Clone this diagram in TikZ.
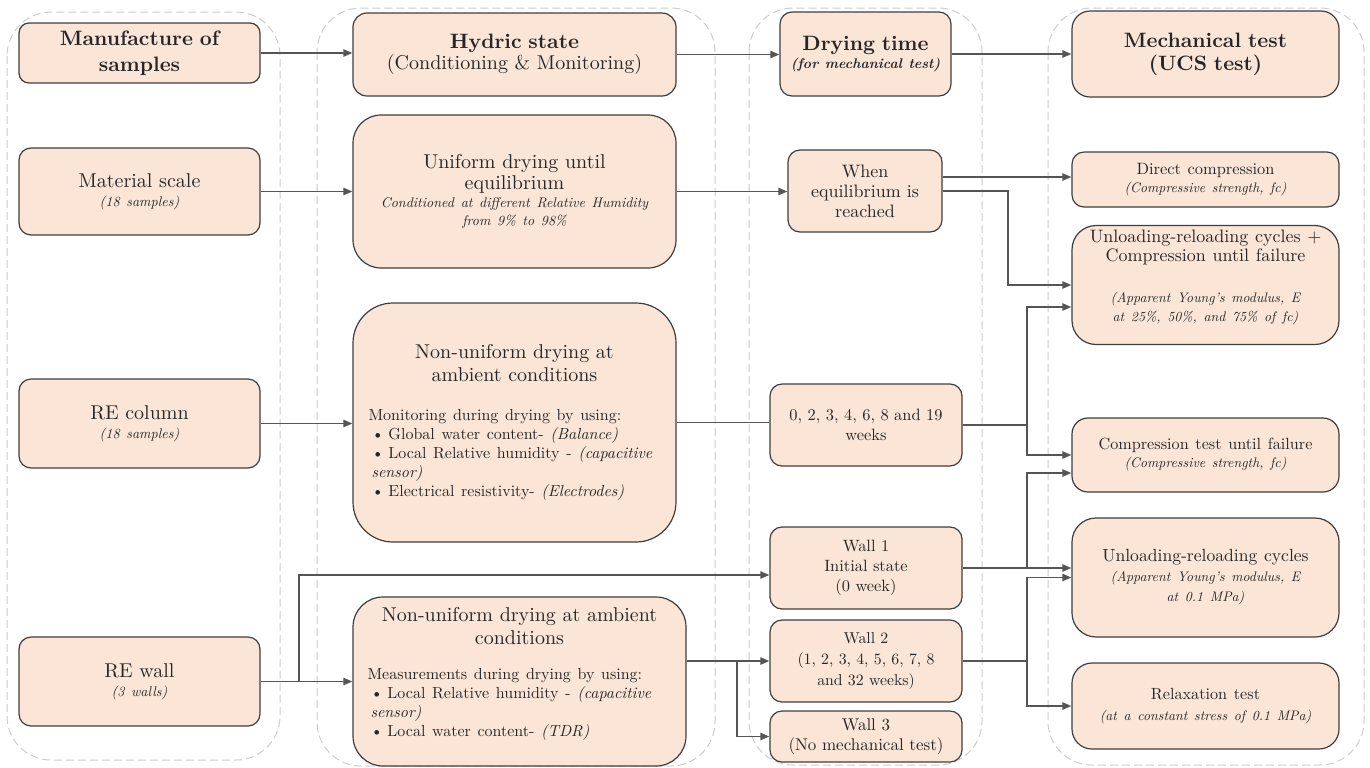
\documentclass[tikz,border=0pt]{standalone}
\usepackage{fontspec}
\setmainfont{lmroman10-regular.otf}[BoldFont=lmroman10-bold.otf, ItalicFont=lmroman10-italic.otf, BoldItalicFont=lmroman10-bolditalic.otf]
\usetikzlibrary{arrows.meta,calc}
\definecolor{boxfill}{RGB}{250,229,214}
\definecolor{boxline}{RGB}{62,62,62}
\definecolor{arrgray}{RGB}{85,85,85}
\definecolor{grpgray}{RGB}{205,205,205}
\newcommand\fsz[2]{\fontsize{#1}{#2}\selectfont}
\newcommand\bul{\hspace*{1.5pt}\makebox[8.5pt][l]{\textbullet}}
\begin{document}
\begin{tikzpicture}[x=0.5pt,y=-0.5pt,
  box/.style={draw=boxline, fill=boxfill, line width=0.6pt, rounded corners=5pt,
    inner sep=2pt, align=center, text=black!85},
  arr/.style={draw=arrgray, line width=0.9pt, -{Triangle[length=4.5pt,width=3.6pt]}},
  ln/.style={draw=arrgray, line width=0.9pt},
  grp/.style={draw=grpgray, dash pattern=on 4pt off 2pt, line width=0.5pt, rounded corners=22pt}]
\useasboundingbox (0,0) rectangle (1370,767);

% column groups
\draw[grp] (7,12) rectangle (280,760);
\draw[grp] (317,8) rectangle (715,766);
\draw[grp] (749,8) rectangle (982,765);
\draw[grp] (1048,8) rectangle (1364,765);

% column 1
\node[box, minimum width=120.5pt, minimum height=30pt, text width=115pt,
  font=\bfseries\fsz{10.4}{13}] (man) at (139.5,53) {Manufacture of\\samples};
\node[box, rounded corners=6pt, minimum width=120.5pt, minimum height=43.5pt, text width=115pt]
  (mat) at (139.5,191.5) {{\fsz{10}{11}Material scale\par}{\itshape\fsz{7}{9.5}(18 samples)\par}};
\node[box, rounded corners=6pt, minimum width=120.5pt, minimum height=44.5pt, text width=115pt]
  (col) at (139.5,423.5) {{\fsz{10}{11}RE column\par}{\itshape\fsz{7}{9.5}(18 samples)\par}};
\node[box, rounded corners=6pt, minimum width=120.5pt, minimum height=44.5pt, text width=115pt]
  (wal) at (139.5,681.5) {{\fsz{10}{11}RE wall\par}{\itshape\fsz{7}{9.5}(3 walls)\par}};

% column 2
\node[box, rounded corners=7pt, minimum width=161.5pt, minimum height=41.5pt, text width=150pt]
  (hyd) at (514.5,54.5) {{\bfseries\fsz{10.4}{12}Hydric state\par}{\fsz{10}{10.5}(Conditioning \& Monitoring)\par}};
\node[box, rounded corners=14pt, minimum width=161.5pt, minimum height=76.5pt, text width=150pt]
  (uni) at (514.5,191.5) {{\fsz{10}{10.5}Uniform drying until\\equilibrium\par}{\itshape\fsz{7}{9}Conditioned at different Relative Humidity\\from 9\% to 98\%\par}};
\node[box, rounded corners=20pt, minimum width=161.5pt, minimum height=119.5pt, text width=146pt, align=left]
  (nuc) at (514.5,422.5) {{\centering\fsz{10}{11.5}Non-uniform drying at\\ambient conditions\par}\vspace{10pt}%
  {\raggedright\fsz{8}{9.5}Monitoring during drying by using:\\
  \bul Global water content- \textit{(Balance)}\\
  \bul Local Relative humidity - \textit{(capacitive}\\
  \hspace*{1.5pt}\textit{sensor)}\\
  \bul Electrical resistivity- \textit{(Electrodes)}\par}};
\node[box, rounded corners=15pt, minimum width=166.5pt, minimum height=84.5pt, text width=152pt, align=left]
  (nuw) at (519.5,681.5) {{\centering\fsz{10}{11.5}Non-uniform drying at ambient\\conditions\par}\vspace{8pt}%
  {\raggedright\fsz{8}{9.5}Measurements during drying by using:\\
  \bul Local Relative humidity - \textit{(capacitive}\\
  \hspace*{1.5pt}\textit{sensor)}\\
  \bul Local water content- \textit{(TDR)}\par}\vspace*{8pt}};

% column 3
\node[box, rounded corners=6pt, minimum width=85.5pt, minimum height=42pt, text width=81pt]
  (dry) at (865.5,54) {{\bfseries\fsz{10.4}{12}Drying time\par}{\bfseries\itshape\fsz{7}{9}(for mechanical test)\par}};
\node[box, rounded corners=6pt, minimum width=77pt, minimum height=41pt, text width=72pt, font=\fsz{9}{10}]
  (whe) at (865,191) {When\\equilibrium is\\reached};
\node[box, rounded corners=6pt, minimum width=96pt, minimum height=41pt, text width=90pt, font=\fsz{8.2}{10}]
  (wks) at (866,425) {0, 2, 3, 4, 6, 8 and 19\\weeks};
\node[box, rounded corners=6pt, minimum width=96pt, minimum height=41pt, text width=90pt, font=\fsz{8.2}{10}]
  (w1) at (866,568) {Wall 1\\Initial state\\(0 week)};
\node[box, rounded corners=6pt, minimum width=96pt, minimum height=41pt, text width=90pt, font=\fsz{7.9}{10.5}]
  (w2) at (866,661) {Wall 2\\(1, 2, 3, 4, 5, 6, 7, 8\\and 32 weeks)};
\node[box, rounded corners=6pt, minimum width=96pt, minimum height=25.5pt, text width=90pt, font=\fsz{8.5}{10}]
  (w3) at (866,736.5) {Wall 3\\(No mechanical test)};

% column 4
\node[box, rounded corners=9pt, minimum width=133.5pt, minimum height=43pt, text width=125pt,
  font=\bfseries\fsz{10.4}{11.5}] (mec) at (1205.5,54) {Mechanical test\\(UCS test)};
\node[box, rounded corners=6pt, minimum width=133.5pt, minimum height=27.5pt, text width=125pt]
  (dc) at (1205.5,179.5) {{\fsz{8.2}{9.5}Direct compression\par}{\itshape\fsz{6.9}{9}(Compressive strength, fc)\par}};
\node[box, rounded corners=12pt, minimum width=133.5pt, minimum height=59pt, text width=125pt]
  (urc) at (1205.5,285) {{\fsz{9}{9.5}Unloading-reloading cycles +\\Compression until failure\par}\vspace{11pt}%
  {\itshape\fsz{6.9}{9.5}(Apparent Young's modulus, E\\at 25\%, 50\%, and 75\% of fc)\par}\vspace*{8pt}};
\node[box, rounded corners=8pt, minimum width=133.5pt, minimum height=37pt, text width=125pt]
  (ctf) at (1205.5,455) {{\fsz{8.1}{9.5}Compression test until failure\par}{\itshape\fsz{6.9}{9}(Compressive strength, fc)\par}};
\node[box, rounded corners=12pt, minimum width=133.5pt, minimum height=59.5pt, text width=125pt]
  (urr) at (1205.5,577.5) {{\fsz{8.8}{10}Unloading-reloading cycles\par}{\itshape\fsz{6.9}{10}(Apparent Young's modulus, E\\at 0.1 MPa)\par}};
\node[box, rounded corners=10pt, minimum width=133.5pt, minimum height=43pt, text width=125pt]
  (rel) at (1205.5,706) {{\fsz{8.1}{9.5}Relaxation test\par}{\itshape\fsz{6.9}{10.5}(at a constant stress of 0.1 MPa)\par}};

% helper coordinates
\coordinate (weq) at ([yshift=7pt]whe.east);
\coordinate (urcin) at ([yshift=-11pt]urc.west);
\coordinate (w1in) at ([yshift=-3.5pt]w1.west);
\coordinate (ctfin) at ([yshift=-9pt]ctf.west);

% connectors: header row
\draw[arr] (man.east) -- (hyd.west |- man.east);
\draw[arr] (hyd.east) -- (dry.west |- hyd.east);
\draw[arr] (dry.east) -- (mec.west |- dry.east);

% material scale
\draw[arr] (mat.east) -- (uni.west |- mat.east);
\draw[arr] (uni.east) -- (whe.west |- uni.east);
\draw[arr] (weq) -- (dc.west |- weq);
\draw[arr] (whe.east) -- ++(65,0) |- (urc.west);

% RE column
\draw[arr] (col.east) -- (nuc.west |- col.east);
\draw[ln] (nuc.east) -- (wks.west |- nuc.east);
\draw[arr] (wks.east) -- ++(64,0) |- (urcin);
\draw[arr] (wks.east) -- ++(64,0) |- (ctf.west);

% RE wall
\draw[arr] (wal.east) -- (nuw.west |- wal.east);
\draw[arr] (wal.east) -- ++(38,0) |- (w1in);
\draw[arr] (nuw.east |- w2.west) -- (w2.west);
\draw[arr] (nuw.east |- w2.west) -- ++(50,0) |- (w3.west);
\draw[arr] (w1.east) -- (urr.west |- w1.east);
\draw[arr] (w1.east) -- ++(64,0) |- (ctfin);
\draw[arr] (w2.east) -- ++(64,0) |- (urr.west);
\draw[arr] (w2.east) -- ++(64,0) |- (rel.west);
\end{tikzpicture}
\end{document}
